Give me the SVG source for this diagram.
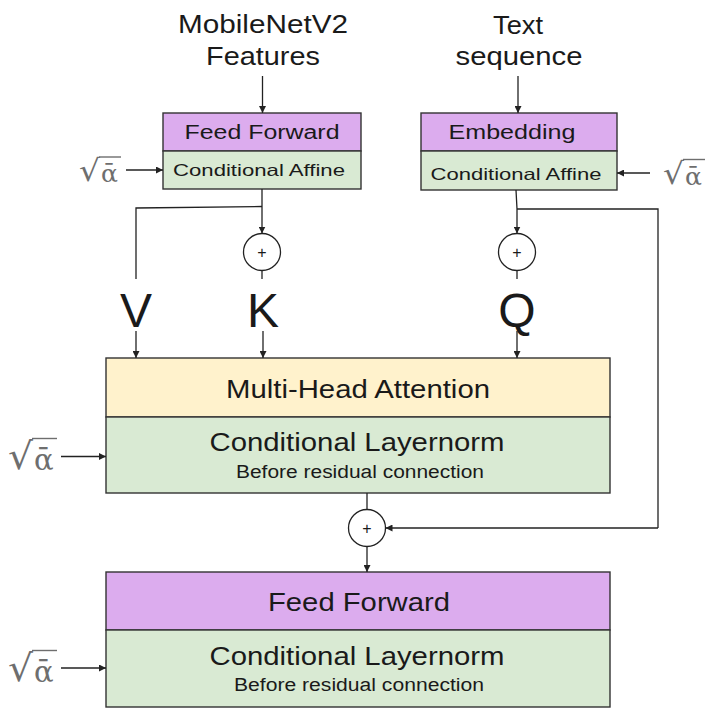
<svg xmlns="http://www.w3.org/2000/svg" width="712" height="720" viewBox="0 0 712 720">
<defs>
<marker id="ah" viewBox="0 0 10 10" refX="10" refY="5" markerWidth="7" markerHeight="7" markerUnits="userSpaceOnUse" orient="auto">
<path d="M0,0 L10,5 L0,10 z" fill="#222"/>
</marker>
<style>
.t{font-family:"Liberation Sans",Arial,sans-serif;fill:#1a1a1a;text-anchor:middle}
.pur{fill:#dcacee;stroke:#333;stroke-width:1.4}
.grn{fill:#d9ead3;stroke:#333;stroke-width:1.4}
.yel{fill:#fff2cc;stroke:#333;stroke-width:1.4}
.c{fill:#fff;stroke:#222;stroke-width:1.3}
.ln{fill:none;stroke:#222;stroke-width:1.3}
.ar{fill:none;stroke:#222;stroke-width:1.3;marker-end:url(#ah)}
.sq{font-family:"DejaVu Serif","Liberation Serif",serif;fill:#6e6e6e}
.vin{stroke:#6e6e6e;stroke-width:1.4}
</style>
</defs>
<rect width="712" height="720" fill="#fff"/>

<g id="label-mobilenet">
<text class="t" x="263" y="33" font-size="25" textLength="170" lengthAdjust="spacingAndGlyphs">MobileNetV2</text>
<text class="t" x="263" y="65" font-size="25" textLength="114" lengthAdjust="spacingAndGlyphs">Features</text>
</g>
<g id="label-text">
<text class="t" x="518" y="34" font-size="25" textLength="50" lengthAdjust="spacingAndGlyphs">Text</text>
<text class="t" x="519" y="65" font-size="25" textLength="127" lengthAdjust="spacingAndGlyphs">sequence</text>
</g>

<g id="ff-top">
<rect class="pur" x="163" y="113" width="198" height="38"/>
<text class="t" x="262" y="139" font-size="20" textLength="155" lengthAdjust="spacingAndGlyphs">Feed Forward</text>
</g>
<g id="ca-left">
<rect class="grn" x="163" y="151" width="198" height="38"/>
<text class="t" x="259" y="176" font-size="16.5" textLength="172" lengthAdjust="spacingAndGlyphs">Conditional Affine</text>
</g>
<g id="embedding">
<rect class="pur" x="421" y="113" width="196" height="38"/>
<text class="t" x="512" y="139" font-size="20" textLength="127" lengthAdjust="spacingAndGlyphs">Embedding</text>
</g>
<g id="ca-right">
<rect class="grn" x="421" y="151" width="196" height="39"/>
<text class="t" x="516" y="180" font-size="16.5" textLength="171" lengthAdjust="spacingAndGlyphs">Conditional Affine</text>
</g>

<g id="sqrt-1">
<text class="sq" x="79" y="181.3" font-size="30" textLength="21" lengthAdjust="spacingAndGlyphs">√</text>
<line class="vin" x1="99" y1="157" x2="121" y2="157"/>
<text class="sq" x="101" y="182" font-size="25">ᾱ</text>
</g>
<g id="sqrt-2">
<text class="sq" x="663" y="183.8" font-size="30" textLength="21" lengthAdjust="spacingAndGlyphs">√</text>
<line class="vin" x1="683" y1="159.5" x2="705" y2="159.5"/>
<text class="sq" x="685" y="184.5" font-size="25">ᾱ</text>
</g>
<g id="sqrt-3">
<text class="sq" x="8" y="468.6" font-size="37" textLength="25" lengthAdjust="spacingAndGlyphs">√</text>
<line class="vin" x1="32" y1="438.5" x2="57" y2="438.5"/>
<text class="sq" x="34" y="469.5" font-size="29">ᾱ</text>
</g>
<g id="sqrt-4">
<text class="sq" x="8" y="680.6" font-size="37" textLength="25" lengthAdjust="spacingAndGlyphs">√</text>
<line class="vin" x1="32" y1="650.5" x2="57" y2="650.5"/>
<text class="sq" x="34" y="681.5" font-size="29">ᾱ</text>
</g>

<g id="add-k">
<circle class="c" cx="262" cy="252" r="18.5"/>
<text class="t" x="262" y="257.5" font-size="16">+</text>
</g>
<g id="add-q">
<circle class="c" cx="517" cy="252" r="18.5"/>
<text class="t" x="517" y="257.5" font-size="16">+</text>
</g>
<g id="add-res">
<circle class="c" cx="367" cy="528" r="18.5"/>
<text class="t" x="367" y="533.5" font-size="16">+</text>
</g>

<g id="label-v"><text class="t" x="136" y="327" font-size="48">V</text></g>
<g id="label-k"><text class="t" x="263" y="327" font-size="48">K</text></g>
<g id="label-q"><text class="t" x="517" y="327" font-size="48">Q</text></g>

<g id="mha">
<rect class="yel" x="106" y="358" width="504" height="59"/>
<text class="t" x="358" y="398" font-size="26" textLength="264" lengthAdjust="spacingAndGlyphs">Multi-Head Attention</text>
</g>
<g id="cln-1">
<rect class="grn" x="106" y="417" width="504" height="76"/>
<text class="t" x="357" y="451" font-size="25.5" textLength="295" lengthAdjust="spacingAndGlyphs">Conditional Layernorm</text>
<text class="t" x="360" y="478" font-size="18" textLength="248" lengthAdjust="spacingAndGlyphs">Before residual connection</text>
</g>
<g id="ff-bottom">
<rect class="pur" x="106" y="572" width="504" height="58"/>
<text class="t" x="359" y="611" font-size="25.5" textLength="182" lengthAdjust="spacingAndGlyphs">Feed Forward</text>
</g>
<g id="cln-2">
<rect class="grn" x="106" y="630" width="504" height="77"/>
<text class="t" x="357" y="665" font-size="25.5" textLength="295" lengthAdjust="spacingAndGlyphs">Conditional Layernorm</text>
<text class="t" x="359" y="691" font-size="18" textLength="250" lengthAdjust="spacingAndGlyphs">Before residual connection</text>
</g>

<g id="connectors">
<line class="ar" x1="262.5" y1="76" x2="262.5" y2="113"/>
<line class="ar" x1="518" y1="76" x2="518" y2="113"/>
<line class="ar" x1="126" y1="170" x2="163" y2="170"/>
<line class="ar" x1="650" y1="173" x2="617" y2="173"/>
<line class="ar" x1="262" y1="189" x2="262" y2="233.5"/>
<polyline class="ln" points="262,206.5 136,208 136,279"/>
<line class="ln" x1="262" y1="270.5" x2="262" y2="279"/>
<line class="ar" x1="136" y1="331" x2="136" y2="358"/>
<line class="ar" x1="263" y1="331" x2="263" y2="358"/>
<polyline class="ar" points="516,190 517,209 517,233.5"/>
<polyline class="ln" points="517,209 658,209 658,528"/>
<line class="ar" x1="658" y1="528" x2="385.5" y2="528"/>
<line class="ln" x1="517" y1="270.5" x2="517" y2="279"/>
<line class="ar" x1="517" y1="331" x2="517" y2="358"/>
<line class="ar" x1="61" y1="456.5" x2="106" y2="456.5"/>
<line class="ln" x1="367" y1="493" x2="367" y2="509.5"/>
<line class="ar" x1="367" y1="546.5" x2="367" y2="572"/>
<line class="ar" x1="61" y1="668" x2="106" y2="668"/>
</g>
</svg>
